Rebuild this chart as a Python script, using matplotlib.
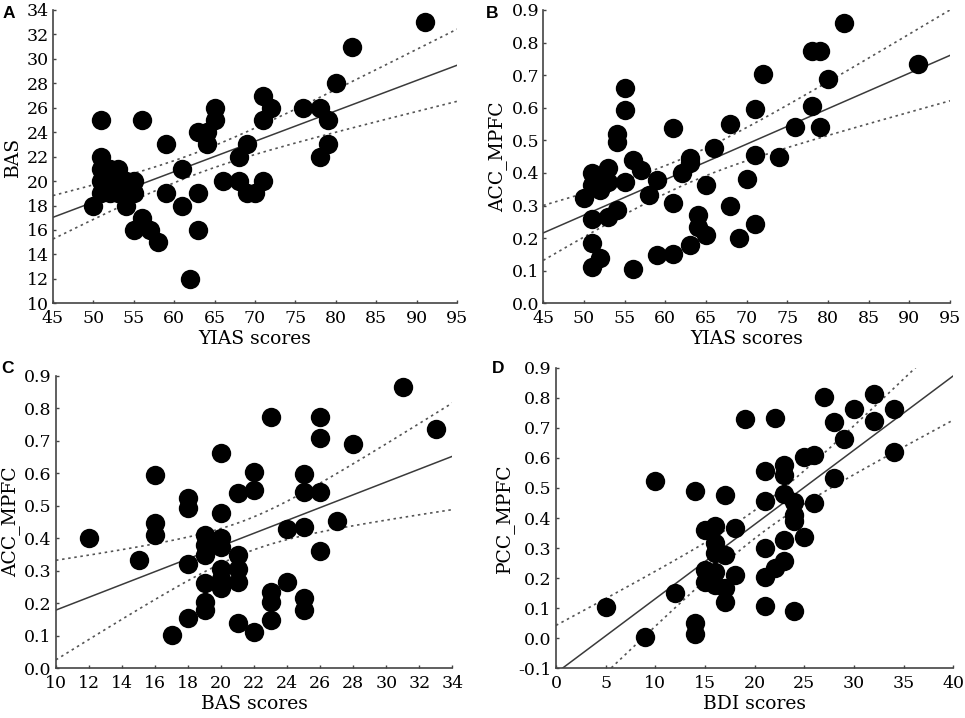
import numpy as np
import matplotlib
matplotlib.use("Agg")
import matplotlib.pyplot as plt
from matplotlib.ticker import FormatStrFormatter

# ---------------- data ----------------
# Panel A: YIAS scores vs BAS
A_x = [51, 56, 59, 51, 51, 52, 53, 51, 52, 53, 54, 55, 51, 52, 53, 54, 55, 50, 54, 56,
       55, 57, 58, 59, 61, 61, 62, 63, 63, 63, 64, 64, 65, 65, 66, 68, 68, 69, 69, 70,
       71, 71, 71, 72, 76, 78, 78, 79, 79, 80, 82, 91]
A_y = [25, 25, 23, 22, 21, 21, 21, 20, 20, 20, 20, 20, 19, 19, 19, 19, 19, 18, 18, 17,
       16, 16, 15, 19, 21, 18, 12, 19, 16, 24, 24, 23, 25, 26, 20, 20, 22, 23, 19, 19,
       20, 25, 27, 26, 26, 26, 22, 25, 23, 28, 31, 33]

# Panel B: YIAS scores vs ACC_MPFC
B_x = [82, 91, 78, 79, 72, 80, 78, 71, 79, 76,
       68, 66, 71, 74, 70, 65, 63, 63, 62, 61,
       61, 68, 64, 64, 65, 63, 71, 69, 59, 61,
       59, 56, 58, 57, 56, 55, 55, 54, 54, 55,
       53, 52, 53, 51, 51, 52, 50, 51, 53, 54,
       51, 52, 51]
B_y = [0.860, 0.734, 0.774, 0.774, 0.704, 0.688, 0.605, 0.595, 0.542, 0.542,
       0.549, 0.476, 0.455, 0.450, 0.380, 0.363, 0.445, 0.430, 0.399, 0.537,
       0.307, 0.300, 0.271, 0.235, 0.210, 0.179, 0.243, 0.200, 0.378, 0.151,
       0.148, 0.104, 0.332, 0.410, 0.440, 0.662, 0.593, 0.520, 0.496, 0.373,
       0.414, 0.390, 0.373, 0.399, 0.363, 0.348, 0.322, 0.260, 0.266, 0.286,
       0.184, 0.140, 0.112]

# Panel C: BAS scores vs ACC_MPFC
C_x = [31, 33, 26, 26, 28, 23, 20, 22, 22, 21,
       25, 25, 26, 27, 25, 24, 26, 24, 25, 25,
       23, 23, 23, 22, 21, 21, 21, 21, 20, 20,
       20, 20, 20, 20, 19, 19, 19, 19, 19, 19,
       18, 18, 18, 18, 17, 16, 16, 16, 15, 12]
C_y = [0.864, 0.736, 0.774, 0.707, 0.689, 0.774, 0.663, 0.605, 0.548, 0.540,
       0.598, 0.541, 0.543, 0.454, 0.436, 0.428, 0.361, 0.267, 0.217, 0.179,
       0.236, 0.205, 0.149, 0.113, 0.138, 0.350, 0.307, 0.267, 0.400, 0.374,
       0.477, 0.307, 0.275, 0.246, 0.410, 0.380, 0.350, 0.261, 0.205, 0.180,
       0.523, 0.492, 0.320, 0.154, 0.103, 0.446, 0.410, 0.594, 0.333, 0.400]

# Panel D: BDI scores vs PCC_MPFC
D_x = [32, 27, 30, 34, 32, 28, 19, 22, 29, 34,
       25, 26, 23, 21, 23, 28, 10, 14, 17, 21,
       23, 24, 26, 24, 24, 23, 25, 21, 23, 22,
       21, 21, 24, 18, 16, 15, 16, 16, 17, 15,
       16, 18, 15, 16, 17, 17, 12, 5, 9, 14,
       14]
D_y = [0.811, 0.801, 0.763, 0.763, 0.724, 0.720, 0.729, 0.734, 0.662, 0.621,
       0.604, 0.610, 0.576, 0.556, 0.543, 0.532, 0.523, 0.491, 0.476, 0.457,
       0.480, 0.454, 0.449, 0.410, 0.390, 0.327, 0.338, 0.301, 0.257, 0.233,
       0.205, 0.108, 0.092, 0.366, 0.375, 0.360, 0.316, 0.282, 0.277, 0.227,
       0.222, 0.210, 0.188, 0.177, 0.166, 0.120, 0.150, 0.105, 0.005, 0.052,
       0.013]

A_xticks = list(range(45, 96, 5))
A_yticks = list(range(10, 35, 2))
B_xticks = list(range(45, 96, 5))
B_yticks = [0.0, 0.1, 0.2, 0.3, 0.4, 0.5, 0.6, 0.7, 0.8, 0.9]
C_xticks = list(range(10, 35, 2))
C_yticks = [0.0, 0.1, 0.2, 0.3, 0.4, 0.5, 0.6, 0.7, 0.8, 0.9]
D_xticks = list(range(0, 41, 5))
D_yticks = [-0.1, 0.0, 0.1, 0.2, 0.3, 0.4, 0.5, 0.6, 0.7, 0.8, 0.9]

T_CRIT = 2.01  # two-sided 95% t value for n ~ 50

panels = [
    dict(letter="A", x=A_x, y=A_y, xlabel="YIAS scores", ylabel="BAS",
         xlim=(45, 95), ylim=(10, 34), xticks=A_xticks, yticks=A_yticks, yfmt="%d",
         rect=[0.0549, 0.5776, 0.4187, 0.4085], lpos=(0.003, 0.992)),
    dict(letter="B", x=B_x, y=B_y, xlabel="YIAS scores", ylabel="ACC_MPFC",
         xlim=(45, 95), ylim=(0, 0.9), xticks=B_xticks, yticks=B_yticks, yfmt="%.1f",
         rect=[0.5630, 0.5776, 0.4215, 0.4085], lpos=(0.503, 0.992)),
    dict(letter="C", x=C_x, y=C_y, xlabel="BAS scores", ylabel="ACC_MPFC",
         xlim=(10, 34), ylim=(0, 0.9), xticks=C_xticks, yticks=C_yticks, yfmt="%.1f",
         rect=[0.0580, 0.0692, 0.4107, 0.4075], lpos=(0.001, 0.497)),
    dict(letter="D", x=D_x, y=D_y, xlabel="BDI scores", ylabel="PCC_MPFC",
         xlim=(0, 40), ylim=(-0.1, 0.9), xticks=D_xticks, yticks=D_yticks, yfmt="%.1f",
         rect=[0.5762, 0.0692, 0.4117, 0.4187], lpos=(0.510, 0.497)),
]

plt.rcParams["font.family"] = ["DejaVu Serif"]
plt.rcParams["axes.unicode_minus"] = True

fig = plt.figure(figsize=(9.65, 7.18), dpi=100)

for p in panels:
    ax = fig.add_axes(p["rect"])
    x = np.asarray(p["x"], float)
    y = np.asarray(p["y"], float)
    ax.scatter(x, y, s=195, c="black", linewidths=0, zorder=3, clip_on=False)

    # linear fit with 95% confidence band of the mean
    slope, intercept = np.polyfit(x, y, 1)
    n = len(x)
    resid = y - (slope * x + intercept)
    s = np.sqrt(np.sum(resid ** 2) / (n - 2))
    xm = x.mean()
    sxx = np.sum((x - xm) ** 2)
    xs = np.linspace(p["xlim"][0], p["xlim"][1], 300)
    ys = slope * xs + intercept
    half = T_CRIT * s * np.sqrt(1.0 / n + (xs - xm) ** 2 / sxx)
    ax.plot(xs, ys, color="#3a3a3a", lw=1.1, zorder=2)
    ax.plot(xs, ys + half, color="#555555", lw=1.2, ls=(0, (1.5, 2.2)), zorder=2)
    ax.plot(xs, ys - half, color="#555555", lw=1.2, ls=(0, (1.5, 2.2)), zorder=2)

    ax.set_xlim(*p["xlim"])
    ax.set_ylim(*p["ylim"])
    ax.set_xticks(p["xticks"])
    ax.set_yticks(p["yticks"])
    ax.yaxis.set_major_formatter(FormatStrFormatter(p["yfmt"]))
    for side in ("top", "right"):
        ax.spines[side].set_visible(False)
    for side in ("left", "bottom"):
        ax.spines[side].set_color("#444444")
        ax.spines[side].set_linewidth(1.2)
    ax.tick_params(direction="in", length=2, width=1, colors="#444444",
                   labelcolor="black", labelsize=12.5)
    ax.tick_params(axis="x", pad=5)
    ax.tick_params(axis="y", pad=3)
    ax.set_xlabel(p["xlabel"], fontsize=13.5, labelpad=2)
    ax.set_ylabel(p["ylabel"], fontsize=13.5, labelpad=3)

    fig.text(p["lpos"][0], p["lpos"][1], p["letter"], fontsize=12.5, fontweight="bold",
             family=["Liberation Sans", "DejaVu Sans"], ha="left", va="top")

fig.savefig("out.png", dpi=100)
